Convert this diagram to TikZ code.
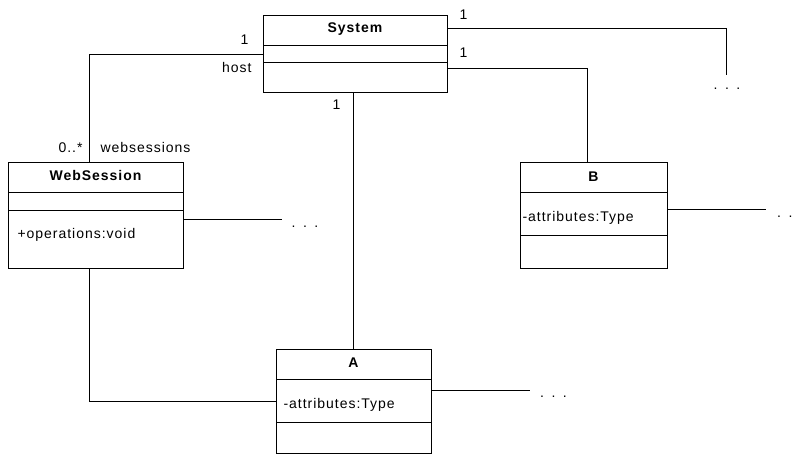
\documentclass[tikz,border=0pt]{standalone}
\usepackage{fontspec}
\setmainfont{Liberation Sans}[LetterSpace=7]
\usepackage{tikz}
\usetikzlibrary{calc}
\tikzstyle{every node}=[font=\fontsize{14}{16}\selectfont, inner sep=0pt]
\tikzstyle{classbox}=[draw, line width=1pt, outer sep=0pt]
\tikzstyle{classname}=[anchor=base, font=\fontsize{14}{16}\selectfont\bfseries]
\newcommand{\moredots}{.\hspace{7.5pt}.\hspace{7.5pt}.}

\begin{document}
\begin{tikzpicture}[x=1pt, y=-1pt, line width=1pt]

                \useasboundingbox (0,0) rectangle (793,458);

                \coordinate (SysEnd) at (726, 75);
                \coordinate (WebEnd) at (282, 219);
                \coordinate (AEnd) at (530, 390);
                \coordinate (BEnd) at (766, 209);

                \node [classbox, minimum width=184pt, minimum height=77pt] (System) at (355, 53.5) {};
                \node [classbox, minimum width=175pt, minimum height=106pt] (WebSession) at (95.5, 215) {};
                \node [classbox, minimum width=147pt, minimum height=106pt] (B) at (593.5, 215) {};
                \node [classbox, minimum width=155pt, minimum height=104pt] (A) at (353.5, 401) {};

                \draw ($(System.north west)+(0,30)$) -- ($(System.north east)+(0,30)$);
                \draw ($(System.north west)+(0,47)$) -- ($(System.north east)+(0,47)$);
                \draw ($(WebSession.north west)+(0,30)$) -- ($(WebSession.north east)+(0,30)$);
                \draw ($(WebSession.north west)+(0,48)$) -- ($(WebSession.north east)+(0,48)$);
                \draw ($(B.north west)+(0,30)$) -- ($(B.north east)+(0,30)$);
                \draw ($(B.north west)+(0,73)$) -- ($(B.north east)+(0,73)$);
                \draw ($(A.north west)+(0,30)$) -- ($(A.north east)+(0,30)$);
                \draw ($(A.north west)+(0,73)$) -- ($(A.north east)+(0,73)$);

                \node [classname] (SystemName) at ($(System.north)+(0,17)$) {System};
                \node [classname] (WebSessionName) at ($(WebSession.north)+(0,18)$) {WebSession};
                \node [classname] (BName) at ($(B.north)+(0,19)$) {B};
                \node [classname] (AName) at ($(A.north)+(0,18)$) {A};

                \node [anchor=base west] (WebOps) at ($(WebSession.north west)+(9,76)$) {+operations:void};
                \node [anchor=base west] (BAttr) at ($(B.north west)+(2,59)$) {-attributes:Type};
                \node [anchor=base west] (AAttr) at ($(A.north west)+(7,59)$) {-attributes:Type};

                \node [anchor=base west] (SysTopOne) at (459, 19) {1};
                \node [anchor=base west] (SysBOne) at (459, 57) {1};
                \node [anchor=base east] (SysWebOne) at (249, 44) {1};
                \node [anchor=base east] (Host) at (252, 72) {host};
                \node [anchor=base east] (SysAOne) at (341, 109) {1};
                \node [anchor=base east] (WebMany) at (83, 152) {0..*};
                \node [anchor=base west] (Websessions) at (100, 152) {websessions};

                \node (SysMore) at (727, 89) {\moredots};
                \node (WebMore) at (305, 227) {\moredots};
                \node (AMore) at (553.5, 397) {\moredots};
                \node (BMore) at (790.5, 217) {\moredots};

                \draw ($(System.north west)+(0,39)$) -| ($(WebSession.north west)+(81,0)$);
                \draw (A.north |- System.south) -- (A.north);
                \draw ($(System.north east)+(0,13)$) -| (SysEnd);
                \draw ($(System.north east)+(0,53)$) -| ($(B.north west)+(67,0)$);
                \draw ($(WebSession.north east)+(0,57)$) -- (WebEnd);
                \draw ($(WebSession.south west)+(81,0)$) |- ($(A.north west)+(0,52)$);
                \draw ($(A.north east)+(0,41)$) -- (AEnd);
                \draw ($(B.north east)+(0,47)$) -- (BEnd);

            \end{tikzpicture}
\end{document}
